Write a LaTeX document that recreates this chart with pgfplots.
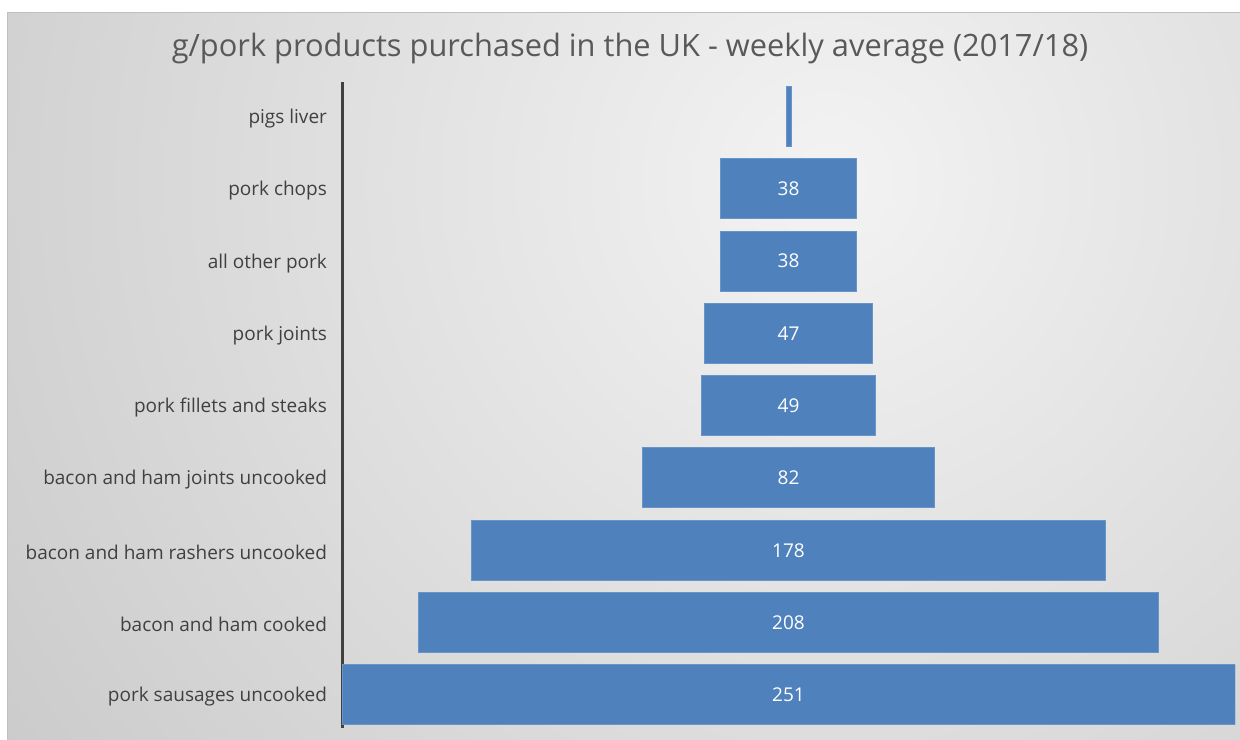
\documentclass[border=0pt]{standalone}
\usepackage{pgfplots}
\pgfplotsset{compat=1.18}
\usepackage{pgfplotstable}
\usepackage{fontspec}
\setmainfont{Open Sans}

\definecolor{barblue}{HTML}{4F81BD}
\definecolor{lbl}{HTML}{404040}
\definecolor{ttl}{HTML}{595959}

% y, invisible offset (251-v)/2, value, label
\pgfplotstableread{
y off val lab
0 0 251 251
1 21.5 208 208
2 36.5 178 178
3 84.5 82 82
4 101 49 49
5 102 47 47
6 106.5 38 38
7 106.5 38 38
8 124.8 1.4 {}
}\funnel

\begin{document}
\begin{tikzpicture}
\path[use as bounding box] (0,0) rectangle (620pt,369.5pt);
\begin{scope}
  \clip (3.5pt,0) rectangle (620pt,363pt);
  \shade[inner color={rgb,255:red,243;green,243;blue,243}, outer color={rgb,255:red,192;green,192;blue,192}] (415pt,279.5pt) circle (640pt);
\end{scope}
\draw[black!25, line width=0.5pt] (3.5pt,0) -- (3.5pt,363pt) -- (620pt,363pt);

\node[font=\fontsize{15.4}{18}\selectfont, text=ttl] at (315pt,345pt)
  {g/pork products purchased in the UK - weekly average (2017/18)};

\begin{axis}[
  at={(171pt,5.5pt)}, anchor=south west,
  scale only axis, width=446.5pt, height=323pt,
  xbar stacked, bar width=30pt,
  xmin=0, xmax=251,
  ymin=-0.46, ymax=8.48,
  hide x axis,
  axis y line*=left,
  y axis line style={draw=lbl, line width=1.5pt},
  ytick={0,...,8},
  yticklabels={pork sausages uncooked, bacon and ham cooked,
    bacon and ham rashers uncooked, bacon and ham joints uncooked,
    pork fillets and steaks, pork joints, all other pork,
    pork chops, pigs liver},
  major tick length=0pt,
  yticklabel style={font=\fontsize{9.5}{11}\selectfont, text=lbl, xshift=-4pt, yshift=-1pt},
]
\addplot[draw=none, fill=none] table[x=off, y=y] {\funnel};
\addplot[fill=barblue, draw=barblue!85!white, line width=0.5pt,
  nodes near coords, point meta=explicit symbolic,
  nodes near coords style={anchor=center, text=white, font=\fontsize{9.5}{11}\selectfont}]
  table[x=val, y=y, meta=lab] {\funnel};
\end{axis}
\end{tikzpicture}
\end{document}
